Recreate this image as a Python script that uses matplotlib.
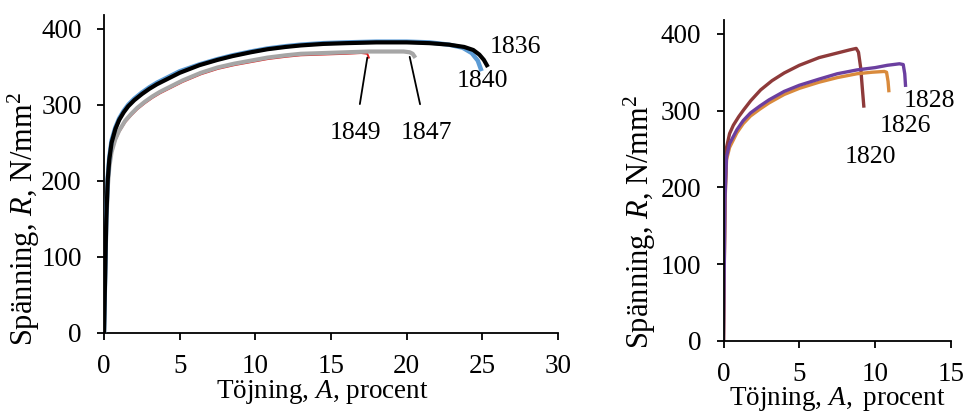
import matplotlib
matplotlib.use("Agg")
import matplotlib.pyplot as plt

plt.rcParams['font.family'] = ['Liberation Serif', 'DejaVu Serif']
plt.rcParams['mathtext.fontset'] = 'custom'
plt.rcParams['mathtext.rm'] = 'Liberation Serif'
plt.rcParams['mathtext.it'] = 'Liberation Serif:italic'

# ---- Left chart data (strain %, stress N/mm2) ----
strain_1836 = [0, 0.15, 0.25, 0.35, 0.5, 0.75, 1.0, 1.3, 1.6, 2.0, 2.5, 3.0, 3.5, 4.1, 5.0, 6.3, 7.5, 8.5, 9.7, 10.8, 12.0, 13.0, 14.5, 16.0, 18.0, 20.0, 21.5, 22.8, 23.8, 24.4, 24.8, 25.1, 25.3]
stress_1836 = [0, 150, 202, 228, 250, 268, 280, 290, 298, 306, 314, 321, 327, 333, 342, 352, 359, 364, 369, 373, 376, 378, 380, 381, 382, 382, 381, 379, 376, 372, 366, 359, 352]
strain_1840 = [0, 0.15, 0.25, 0.35, 0.5, 0.75, 1.0, 1.3, 1.6, 2.0, 2.5, 3.0, 3.5, 4.1, 5.0, 6.3, 7.5, 8.5, 9.7, 10.8, 12.0, 13.0, 14.5, 16.0, 18.0, 20.0, 21.5, 22.8, 23.7, 24.3, 24.7, 24.9]
stress_1840 = [0, 152, 205, 231, 253, 270, 282, 292, 300, 308, 316, 323, 329, 335, 344, 353, 360, 365, 370, 374, 377, 379, 381, 382, 383, 383, 382, 379, 375, 368, 358, 347]
strain_1847 = [0, 0.15, 0.25, 0.35, 0.5, 0.75, 1.0, 1.4, 1.8, 2.2, 2.7, 3.2, 3.7, 4.3, 5.2, 6.4, 7.5, 8.6, 9.7, 10.8, 12.0, 13.0, 14.5, 16.0, 17.5, 19.0, 19.8, 20.2, 20.4, 20.5]
stress_1847 = [0, 140, 192, 218, 238, 255, 266, 279, 288, 296, 304, 311, 317, 323, 332, 342, 349, 354, 358, 362, 365, 367, 368, 369, 370, 370, 370, 369, 367, 364]
strain_1849 = [0, 0.15, 0.25, 0.35, 0.5, 0.75, 1.0, 1.4, 1.8, 2.2, 2.7, 3.2, 3.7, 4.3, 5.2, 6.4, 7.5, 8.6, 9.7, 10.8, 12.0, 13.0, 14.5, 16.0, 17.0, 17.4, 17.5]
stress_1849 = [0, 140, 190, 216, 236, 253, 264, 277, 286, 294, 302, 309, 315, 321, 330, 340, 347, 352, 356, 360, 363, 365, 366, 367, 368, 367, 362]

# ---- Right chart data ----
strain_1820 = [0, 0.05, 0.1, 0.2, 0.4, 0.65, 1.0, 1.33, 1.8, 2.45, 3.2, 4.0, 5.0, 6.3, 7.5, 8.3, 8.75, 8.9, 9.05, 9.15, 9.25]
stress_1820 = [0, 100, 190, 252, 270, 281, 292, 301, 313, 327, 339, 349, 359, 369, 375, 379, 381, 376, 355, 330, 306]
strain_1828 = [0, 0.05, 0.1, 0.2, 0.4, 0.88, 1.3, 1.78, 2.4, 3.0, 4.0, 5.0, 6.3, 7.5, 8.8, 10.0, 10.8, 11.6, 11.85, 11.95, 12.0]
stress_1828 = [0, 95, 185, 240, 257, 275, 287, 297, 306, 314, 325, 333, 341, 348, 353, 356, 359, 361, 360, 348, 333]
strain_1826 = [0, 0.05, 0.1, 0.2, 0.4, 0.88, 1.3, 1.78, 2.4, 3.0, 4.0, 5.0, 6.3, 7.5, 8.8, 9.8, 10.6, 10.75, 10.85, 10.9]
stress_1826 = [0, 92, 180, 236, 252, 271, 283, 293, 302, 310, 321, 329, 337, 343, 348, 350, 351, 350, 338, 326]

left_xticks = [0, 5, 10, 15, 20, 25, 30]
right_xticks = [0, 5, 10, 15]
yticks = [0, 100, 200, 300, 400]

xlabel = "Töjning, $\\mathit{A}$, procent"
xlabel_r = "Töjning, $\\mathit{A,}$ procent"
ylabel = "Spänning, $\\mathit{R}$, N/mm$^2$"

fig = plt.figure(figsize=(9.67, 4.12), dpi=100)
axL = fig.add_axes([104/967, 79/412, 454/967, 318/412])
axR = fig.add_axes([723.5/967, 71/412, 227.5/967, 321/412])

fs = 19.5
yfs = 22

def style(ax, xt, xmax):
    ax.set_xlim(0, xmax)
    ax.set_ylim(0, 418)
    ax.set_xticks(xt)
    ax.set_yticks(yticks)
    for s in ['top', 'right']:
        ax.spines[s].set_visible(False)
    for s in ['left', 'bottom']:
        ax.spines[s].set_linewidth(1.3)
    ax.tick_params(direction='out', length=5, width=1.3, labelsize=fs)
    ax.tick_params(axis='x', pad=10)
    ax.tick_params(axis='y', pad=11)

# Left
axL.plot(strain_1849, stress_1849, color='#E02020', lw=1.4, zorder=2)
axL.plot(strain_1847, stress_1847, color='#A6A6A6', lw=3.0, zorder=3)
axL.plot(strain_1840, stress_1840, color='#5B9BD5', lw=3.2, zorder=4)
axL.plot(strain_1836, stress_1836, color='black', lw=3.0, zorder=5)
style(axL, left_xticks, 30)
axL.set_xlabel(xlabel, fontsize=fs)
axL.set_ylabel(ylabel, fontsize=yfs)
axL.xaxis.set_label_coords(0.48, -0.141)
axL.yaxis.set_label_coords(-0.136, 0.36)

afs = 18.5
axL.text(27.2, 376, "1836", fontsize=afs, ha='center', va='center')
axL.text(25.0, 331, "1840", fontsize=afs, ha='center', va='center')
axL.annotate("1849", xy=(strain_1849[-2], stress_1849[-1]), xytext=(16.6, 263),
             fontsize=afs, ha='center', va='center',
             arrowprops=dict(arrowstyle='-', color='black', lw=1.3, shrinkA=11, shrinkB=0))
axL.annotate("1847", xy=(strain_1847[-3], 363), xytext=(21.3, 263),
             fontsize=afs, ha='center', va='center',
             arrowprops=dict(arrowstyle='-', color='black', lw=1.3, shrinkA=11, shrinkB=0))

# Right
axR.plot(strain_1820, stress_1820, color='#8E3A3A', lw=2.4)
axR.plot(strain_1826, stress_1826, color='#D98A3C', lw=2.4)
axR.plot(strain_1828, stress_1828, color='#6B3FA0', lw=2.4)
style(axR, right_xticks, 15)
axR.set_xlabel(xlabel_r, fontsize=fs)
axR.set_ylabel(ylabel, fontsize=yfs)
axR.xaxis.set_label_coords(0.5, -0.136)
axR.yaxis.set_label_coords(-0.287, 0.37)
axR.text(13.6, 313, "1828", fontsize=afs, ha='center', va='center')
axR.text(12.0, 280, "1826", fontsize=afs, ha='center', va='center')
axR.text(9.66, 239, "1820", fontsize=afs, ha='center', va='center')

fig.savefig("out.png", dpi=100)
